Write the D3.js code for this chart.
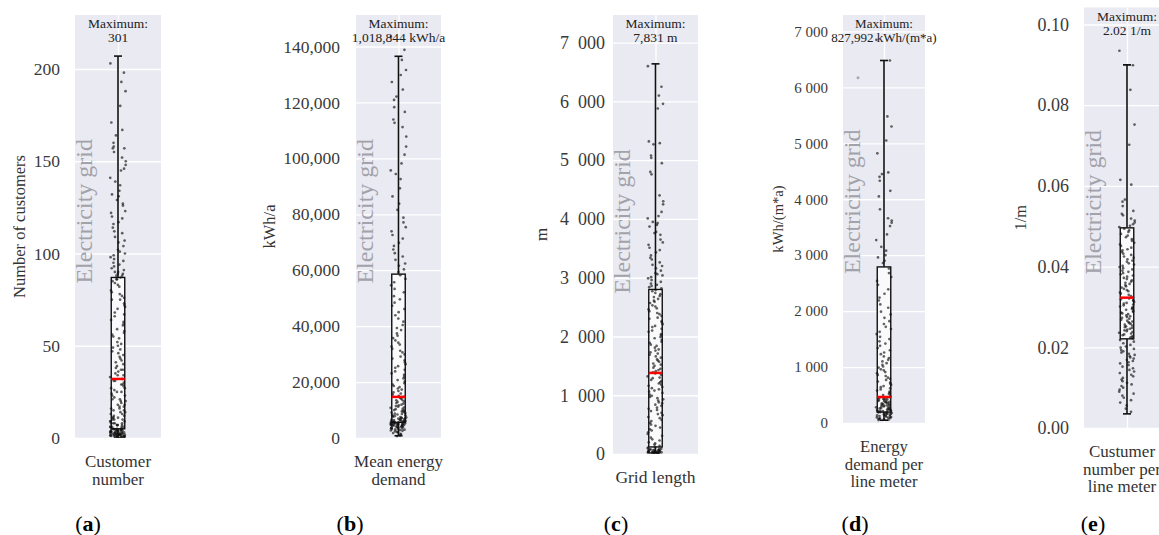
<!DOCTYPE html>
<html>
<head>
<meta charset="utf-8">
<script src="https://cdn.jsdelivr.net/npm/d3@7"></script>
<style>
  html, body { margin: 0; padding: 0; background: #ffffff; }
  svg { display: block; font-family: "Liberation Serif", "DejaVu Serif", serif; }
</style>
</head>
<body>
<svg id="chart" width="1159" height="535"></svg>
<script>
// ---- categories and labels ----
const categories = ["Customer number", "Mean energy demand", "Grid length",
                    "Energy demand per line meter", "Custumer number per line meter"];
const categoryLines = [["Customer", "number"], ["Mean energy", "demand"], ["Grid length"],
                       ["Energy", "demand per", "line meter"], ["Custumer", "number per", "line meter"]];
const yLabels = ["Number of customers", "kWh/a", "m", "kWh/(m*a)", "1/m"];
const maximumLabels = ["301", "1,018,844 kWh/a", "7,831 m", "827,992 kWh/(m*a)", "2.02 1/m"];
const panelLetters = ["a", "b", "c", "d", "e"];

// ---- tick values ----
const customerTicks = [0, 50, 100, 150, 200];
const energyTicks = [0, 20000, 40000, 60000, 80000, 100000, 120000, 140000];
const lengthTicks = [0, 1000, 2000, 3000, 4000, 5000, 6000, 7000];
const perMeterTicks = [0, 1000, 2000, 3000, 4000, 5000, 6000, 7000];
const densityTicks = [0, 0.02, 0.04, 0.06, 0.08, 0.10];

// ---- box statistics: [lower whisker, Q1, median, Q3, upper whisker] ----
const customerBox = [0, 5, 32, 87, 207];
const energyBox = [800, 5600, 14700, 58600, 136500];
const lengthBox = [30, 120, 1380, 2800, 6640];
const perMeterBox = [50, 195, 465, 2790, 6480];
const densityBox = [0.0035, 0.0221, 0.0323, 0.0496, 0.0900];

// ---- observations per electricity grid ----
const customerNumber = [301, 203, 198, 193, 188, 180, 171, 167, 164, 160, 158, 157, 157, 155, 152, 150, 148, 146, 145, 141,
  139, 137, 134, 132, 131, 129, 127, 126, 123, 122, 120, 119, 117, 116, 114, 112, 111, 109, 107, 106, 104, 102, 101, 100,
  99, 98, 97, 96, 95, 94, 93, 92, 91, 90, 90, 89, 89, 88, 88, 87,
  86, 86, 85, 84, 83, 82, 80, 79, 78, 77, 76, 75, 75, 73, 72, 71, 70, 68, 67, 66, 64, 63, 62, 61, 59, 58, 57, 56, 55, 54,
  52, 51, 50, 49, 48, 47, 46, 45, 44, 43, 42, 41, 40, 39, 38, 37, 37, 36, 35, 34, 34, 33, 32,
  31, 31, 30, 29, 29, 28, 27, 27, 26, 25, 25, 24, 23, 23, 22, 21, 21, 20, 20, 19, 18, 18, 17, 17, 16, 16, 15, 15, 14, 14,
  13, 13, 12, 12, 11, 11, 11, 10, 10, 10, 9, 9, 9, 8, 8, 8, 8, 7, 7, 7, 7, 6, 6, 6, 6, 6, 5, 5, 5, 5, 5,
  4.6, 4.4, 4.1, 4, 4, 3.8, 3.7, 3.5, 3.4, 3.2, 3, 3, 3, 2.9, 2.7, 2.6, 2.5, 2.4, 2.3, 2.1, 2, 2, 2, 1.9, 1.8, 1.7,
  1.6, 1.5, 1.4, 1.3, 1.2, 1.1, 1, 1, 1, 0.9, 0.8, 0.7, 0.6, 0.5, 4.8, 4.3, 3.9, 3.3, 2.8, 2.2, 1.5, 1.2, 0.8];

const meanEnergyDemand = [1018844, 143500, 138800, 135200, 131600, 129800, 127300, 124600, 122100, 120900, 118300, 116600,
  113900, 112700, 111200, 107800, 104200, 101300, 98200, 95700, 94400, 92600, 89300, 86400, 83800, 81600, 78800, 77100,
  75400, 73900, 72600, 71300, 69800, 68700, 67400, 66100, 64900, 63700, 62400, 61600, 60300, 59400,
  58200, 56900, 55700, 54600, 53300, 52100, 50700, 49600, 48400, 47300, 46100, 45000, 43900, 42700, 41600, 40400, 39300,
  38600, 37400, 36600, 35700, 34900, 34100, 33400, 32700, 31900, 31200, 30600, 29900, 29100, 28400, 27800, 27100, 26400,
  25700, 25100, 24400, 23800, 23100, 22600, 21900, 21300, 20700, 20200, 19600, 19100, 18600, 18200, 17700, 17300, 16800,
  16300, 15900, 15500, 15100, 14700,
  14400, 14100, 13700, 13500, 13100, 12900, 12500, 12300, 11900, 11700, 11400, 11200, 10900, 10800, 10400, 10300, 10000,
  9900, 9600, 9500, 9200, 9100, 8900, 8700, 8600, 8400, 8200, 8100, 7900, 7800, 7600, 7500, 7400, 7200, 7100, 7000, 6900,
  6800, 6700, 6600, 6500, 6400, 6300, 6200, 6100, 6000, 5950, 5900, 5800, 5750, 5700, 5650, 5600,
  5550, 5480, 5420, 5360, 5300, 5260, 5200, 5130, 5080, 5020, 4970, 4920, 4870, 4810, 4760, 4700, 4630, 4560, 4500, 4420,
  4330, 4260, 4190, 4100, 4020, 3930, 3850, 3760, 3680, 3570, 3480, 3390, 3300, 3190, 3080, 2960, 2840, 2700, 2560, 2380,
  2190, 1980, 1760, 1500, 1230, 950, 700];

const gridLength = [7831, 6600, 6250, 6100, 5960, 5880, 5320, 5290, 5270, 5080, 5040, 4950, 4800, 4760, 4400, 4300, 4250,
  4120, 4050, 4010, 3950, 3930, 3900, 3870, 3780, 3760, 3730, 3650, 3600, 3560, 3510, 3470, 3430, 3380, 3340, 3310, 3260,
  3220, 3200, 3160, 3120, 3080, 3060, 3040, 3010, 2990, 2960, 2930, 2900, 2880, 2860, 2840, 2820,
  2790, 2770, 2740, 2720, 2690, 2670, 2640, 2610, 2590, 2570, 2530, 2510, 2480, 2460, 2430, 2400, 2380, 2350, 2320, 2300,
  2260, 2240, 2210, 2180, 2160, 2130, 2100, 2080, 2040, 2020, 1990, 1970, 1940, 1910, 1890, 1860, 1840, 1810, 1780, 1760,
  1730, 1710, 1690, 1660, 1640, 1610, 1590, 1570, 1540, 1520, 1500, 1470, 1450, 1430, 1410, 1390,
  1370, 1350, 1320, 1300, 1290, 1260, 1240, 1220, 1200, 1180, 1160, 1140, 1120, 1100, 1080, 1060, 1040, 1010, 990, 970, 950,
  930, 910, 880, 860, 840, 820, 790, 770, 750, 730, 700, 680, 660, 630, 610, 580, 560, 530, 500, 480, 450, 420, 400, 370,
  340, 310, 280, 250, 230, 200, 180, 160, 140, 120,
  110, 95, 90, 86, 80, 77, 72, 70, 66, 62, 60, 57, 53, 50, 48, 45, 42, 40, 37, 35, 33, 30, 28, 26, 24, 22, 20, 18, 16, 14,
  12, 10, 8, 6];

const energyPerMeter = [827992, 6850, 6480, 5480, 5300, 5050, 4820, 4480, 4450, 4400, 4330, 4150, 4050, 3820, 3660, 3620,
  3580, 3520, 3370, 3270, 3150, 3080, 3000, 2960, 2900, 2860,
  2760, 2680, 2610, 2540, 2470, 2390, 2310, 2240, 2190, 2120, 2060, 1990, 1940, 1880, 1820, 1770, 1720, 1680, 1630, 1590,
  1540, 1500, 1460, 1420, 1380, 1340, 1300, 1260, 1230, 1190, 1160, 1130, 1100, 1070, 1040, 1010, 990, 960, 940, 910, 890,
  860, 840, 810, 790, 770, 740, 720, 700, 680, 660, 640, 620, 600, 580, 560, 540, 520, 500, 480,
  462, 455, 448, 440, 432, 425, 418, 410, 402, 395, 388, 380, 372, 365, 358, 350, 343, 336, 329, 322, 315, 308, 301, 295,
  288, 281, 275, 268, 262, 256, 250, 244, 238, 232, 227, 222, 217, 212, 207, 203, 199, 196,
  190, 184, 178, 172, 166, 160, 154, 148, 142, 136, 130, 124, 118, 112, 106, 100, 94, 88, 82, 76, 70, 64, 58, 52];
const energyPerMeterFaint = [6170];

const customersPerMeter = [2.02, 0.0935, 0.0899, 0.0838, 0.0752, 0.0702, 0.0615, 0.0603, 0.0566, 0.0561, 0.0550, 0.0538,
  0.0531, 0.0527, 0.0519, 0.0514, 0.0509, 0.0505, 0.0501, 0.0498,
  0.0494, 0.0490, 0.0486, 0.0481, 0.0477, 0.0473, 0.0468, 0.0464, 0.0459, 0.0455, 0.0451, 0.0447, 0.0443, 0.0440, 0.0436,
  0.0432, 0.0429, 0.0425, 0.0422, 0.0418, 0.0415, 0.0412, 0.0408, 0.0405, 0.0402, 0.0399, 0.0396, 0.0393, 0.0390, 0.0387,
  0.0384, 0.0381, 0.0378, 0.0375, 0.0372, 0.0369, 0.0366, 0.0363, 0.0360, 0.0357, 0.0354, 0.0351, 0.0348, 0.0345, 0.0342,
  0.0339, 0.0336, 0.0333, 0.0330, 0.0327, 0.0324,
  0.0321, 0.0319, 0.0317, 0.0315, 0.0312, 0.0310, 0.0308, 0.0306, 0.0304, 0.0301, 0.0299, 0.0297, 0.0295, 0.0293, 0.0290,
  0.0288, 0.0286, 0.0284, 0.0282, 0.0279, 0.0277, 0.0275, 0.0273, 0.0271, 0.0268, 0.0266, 0.0264, 0.0262, 0.0260, 0.0258,
  0.0256, 0.0254, 0.0252, 0.0250, 0.0248, 0.0246, 0.0244, 0.0242, 0.0240, 0.0238, 0.0236, 0.0234, 0.0232, 0.0230, 0.0228,
  0.0226, 0.0224, 0.0222,
  0.0218, 0.0214, 0.0210, 0.0206, 0.0202, 0.0199, 0.0196, 0.0193, 0.0190, 0.0187, 0.0184, 0.0181, 0.0178, 0.0175, 0.0172,
  0.0169, 0.0166, 0.0163, 0.0160, 0.0156, 0.0152, 0.0148, 0.0144, 0.0140, 0.0136, 0.0132, 0.0128, 0.0124, 0.0120, 0.0116,
  0.0112, 0.0108, 0.0104, 0.0100, 0.0095, 0.0090, 0.0085, 0.0080, 0.0075, 0.0069, 0.0063, 0.0056, 0.0048, 0.0040];

// ---- panel geometry (pixels) ----
const layout = [
  { x0: 75, x1: 161, top: 15, bottom: 438, topTickY: 69, tickRight: 60, tickSize: 17.5, yLabelX: 19, yLabelSize: 16.5,
    xLabelSize: 17, maxSize: 13.5, letterX: 88, xLabelX: 118 },
  { x0: 356, x1: 441, top: 15, bottom: 438, topTickY: 46.5, tickRight: 340, tickSize: 17.5, yLabelX: 269, yLabelSize: 16.5,
    xLabelSize: 17, maxSize: 13.5, letterX: 350, xLabelX: 398.5 },
  { x0: 613, x1: 698, top: 15, bottom: 454, topTickY: 42.7, tickRight: 605, tickSize: 18, yLabelX: 541, yLabelSize: 17,
    xLabelSize: 17.5, maxSize: 13.5, letterX: 616, xLabelX: 655.5 },
  { x0: 843, x1: 925, top: 15, bottom: 423, topTickY: 31.4, tickRight: 828, tickSize: 15, yLabelX: 778, yLabelSize: 14.6,
    xLabelSize: 16.7, maxSize: 13, letterX: 855, xLabelX: 884, faintDx: -26 },
  { x0: 1084, x1: 1170, top: 7.5, bottom: 428, topTickY: 24.5, tickRight: 1069, tickSize: 18, yLabelX: 1020, yLabelSize: 16.4,
    xLabelSize: 17, maxSize: 13.5, letterX: 1093, xLabelX: 1122 }
];

const series = [customerNumber, meanEnergyDemand, gridLength, energyPerMeter, customersPerMeter];
const boxes = [customerBox, energyBox, lengthBox, perMeterBox, densityBox];
const tickSets = [customerTicks, energyTicks, lengthTicks, perMeterTicks, densityTicks];

const spaced = d3.formatLocale({ decimal: ".", thousands: "\u2002", grouping: [3], currency: ["", ""] });
const formats = [d3.format("d"), d3.format(",d"), spaced.format(",d"),
                 d3.formatLocale({ decimal: ".", thousands: " ", grouping: [3], currency: ["", ""] }).format(",d"),
                 d3.format(".2f")];

// deterministic horizontal scatter for the strip plot (position only, in [-0.5, 0.5))
const spread = i => {
  const s = Math.sin((i + 1) * 12.9898 + 4.1414) * 43758.5453;
  return s - Math.floor(s) - 0.5;
};

const svg = d3.select("#chart");
const FONT = '"Liberation Serif", "DejaVu Serif", serif';
const BOX_W = 13.5, CAP_W = 8, JITTER_W = 16;

layout.forEach((L, k) => {
  const values = series[k];
  const [lo, q1, med, q3, hi] = boxes[k];
  const ticks = tickSets[k];
  const topTick = ticks[ticks.length - 1];
  const yMax = topTick * (L.bottom - L.top) / (L.bottom - L.topTickY);

  const y = d3.scaleLinear().domain([0, yMax]).range([L.bottom, L.top]);
  const x = d3.scalePoint().domain([categories[k]]).range([L.x0, L.x1]).padding(0.5);
  const cx = x(categories[k]);

  const g = svg.append("g");

  // plot background
  g.append("rect")
    .attr("x", L.x0).attr("y", L.top)
    .attr("width", L.x1 - L.x0).attr("height", L.bottom - L.top)
    .attr("fill", "#eaeaf2");

  // horizontal grid + tick labels
  const axis = d3.axisLeft(y)
    .tickValues(ticks)
    .tickFormat(formats[k])
    .tickSize(-(L.x1 - L.x0))
    .tickPadding(L.x0 - L.tickRight);
  const ag = g.append("g").attr("transform", `translate(${L.x0},0)`).call(axis);
  ag.select(".domain").remove();
  ag.attr("font-family", FONT).attr("font-size", L.tickSize);
  ag.selectAll(".tick line").attr("stroke", "#ffffff").attr("stroke-width", 1.3);
  ag.selectAll(".tick text").attr("fill", "#3a3a3a");

  // vertical grid line at the category
  const xAxis = d3.axisBottom(x).tickSize(-(L.bottom - L.top)).tickFormat("");
  const xg = g.append("g").attr("transform", `translate(0,${L.bottom})`).call(xAxis);
  xg.select(".domain").remove();
  xg.selectAll(".tick line").attr("stroke", "#ffffff").attr("stroke-width", 1.3);

  // category label below the plot
  const xl = g.append("text")
    .attr("text-anchor", "middle")
    .attr("font-family", FONT)
    .attr("font-size", L.xLabelSize)
    .attr("fill", "#333333");
  categoryLines[k].forEach((line, j) => {
    xl.append("tspan").attr("x", L.xLabelX).attr("y", L.bottom + 29 + j * 17.5).text(line);
  });

  // y-axis title
  g.append("text")
    .attr("transform", `translate(${L.yLabelX},${(L.top + L.bottom) / 2}) rotate(-90)`)
    .attr("text-anchor", "middle")
    .attr("dy", "0.35em")
    .attr("font-family", FONT)
    .attr("font-size", L.yLabelSize)
    .attr("fill", "#333333")
    .text(yLabels[k]);

  // watermark label
  g.append("text")
    .attr("transform", `translate(${L.x0 + 17},${L.top + (L.bottom - L.top) * 0.635}) rotate(-90)`)
    .attr("text-anchor", "start")
    .attr("font-family", FONT)
    .attr("font-size", 24)
    .attr("fill", "#a2a2aa")
    .text("Electricity grid");

  // maximum annotation
  const mt = g.append("text")
    .attr("text-anchor", "middle")
    .attr("font-family", FONT)
    .attr("font-size", L.maxSize)
    .attr("fill", "#222222");
  mt.append("tspan").attr("x", cx).attr("y", L.top + 13).text("Maximum:");
  mt.append("tspan").attr("x", cx).attr("y", L.top + 27).text(maximumLabels[k]);

  // clip to the plot area
  const clipId = `clip-${panelLetters[k]}`;
  svg.append("clipPath").attr("id", clipId)
    .append("rect").attr("x", L.x0).attr("y", L.top)
    .attr("width", L.x1 - L.x0).attr("height", L.bottom - L.top);
  const pg = g.append("g").attr("clip-path", `url(#${clipId})`);

  // whiskers and caps
  const stroke = "#111111";
  pg.append("line").attr("x1", cx).attr("x2", cx).attr("y1", y(hi)).attr("y2", y(q3))
    .attr("stroke", stroke).attr("stroke-width", 1.6);
  pg.append("line").attr("x1", cx).attr("x2", cx).attr("y1", y(q1)).attr("y2", y(lo))
    .attr("stroke", stroke).attr("stroke-width", 1.6);
  [hi, lo].forEach(v => {
    pg.append("line").attr("x1", cx - CAP_W / 2).attr("x2", cx + CAP_W / 2)
      .attr("y1", y(v)).attr("y2", y(v))
      .attr("stroke", stroke).attr("stroke-width", 1.6);
  });

  // box
  pg.append("rect")
    .attr("x", cx - BOX_W / 2).attr("width", BOX_W)
    .attr("y", y(q3)).attr("height", y(q1) - y(q3))
    .attr("fill", "#fafafc")
    .attr("stroke", stroke).attr("stroke-width", 1.4);

  // faint single point (panel d)
  if (k === 3) {
    pg.selectAll("circle.faint").data(energyPerMeterFaint).join("circle")
      .attr("class", "faint")
      .attr("cx", cx + L.faintDx).attr("cy", d => y(d)).attr("r", 1.5)
      .attr("fill", "#a8a8b0");
  }

  // observations
  pg.selectAll("circle.obs").data(values).join("circle")
    .attr("class", "obs")
    .attr("cx", (d, i) => cx + spread(i) * JITTER_W)
    .attr("cy", d => y(d))
    .attr("r", 1.35)
    .attr("fill", "#111111")
    .attr("fill-opacity", 0.65);

  // median
  pg.append("line")
    .attr("x1", cx - BOX_W / 2).attr("x2", cx + BOX_W / 2)
    .attr("y1", y(med)).attr("y2", y(med))
    .attr("stroke", "#ff0000").attr("stroke-width", 2.5);

  // panel letter
  const lt = svg.append("text")
    .attr("x", L.letterX).attr("y", 531)
    .attr("text-anchor", "middle")
    .attr("font-family", FONT)
    .attr("font-size", 22)
    .attr("fill", "#000000");
  lt.append("tspan").text("(");
  lt.append("tspan").attr("font-weight", "bold").text(panelLetters[k]);
  lt.append("tspan").text(")");
});
</script>
</body>
</html>
